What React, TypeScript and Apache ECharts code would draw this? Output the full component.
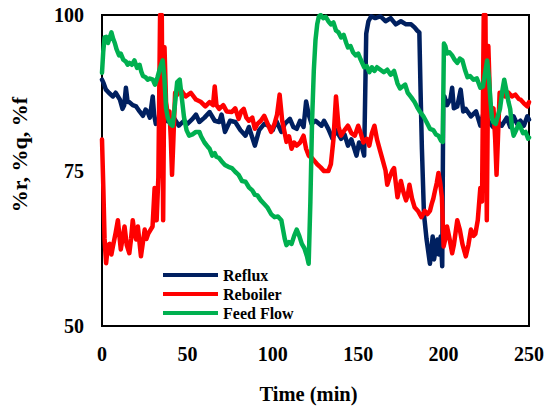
import React, { useEffect, useRef } from "react";
import * as echarts from "echarts";

const FONT = "'Liberation Serif', 'Times New Roman', serif";

const seriesNames = ["Reflux", "Reboiler", "Feed Flow"];
const seriesColors = ["#002060", "#FF0000", "#00B050"];

const xTickValues = [0, 50, 100, 150, 200, 250];
const yTickValues = [50, 75, 100];

// [time (min), %]
const refluxData: [number, number][] = [
  [0, 89.6], [1, 89], [2.3, 88], [4, 87.5], [6.4, 86.9], [8, 87.5], [10.5, 86.4], [12, 84.9], [13, 85.5], [14, 88.3],
  [15, 86], [16, 86], [18, 85.5], [20, 85.3], [22, 84.5], [24, 83.8], [25.5, 84.8], [26.7, 84.4], [28, 83.5], [29.7, 86.9],
  [30.5, 84], [31.5, 82.5], [33, 83], [35.5, 83.8], [37.5, 83], [39.5, 82.8], [42, 83.5], [45, 82.2], [48, 83], [50, 82.5],
  [53, 83.3], [55, 84], [57, 82.8], [60, 83.5], [63, 84.4], [66, 83], [68.6, 82.8], [70, 84], [72, 81.2], [75, 83],
  [78, 82.8], [81, 81.5], [84, 80.6], [86, 82], [89.5, 79], [92, 81.5], [95, 82.5], [97.5, 82.2], [100, 81.5], [102, 83],
  [105, 81.2], [107, 82.5], [110, 83.3], [112, 82], [114, 81.7], [116, 83], [118, 82], [119.5, 86.1], [121, 84], [122.7, 82.5],
  [125, 83], [128.5, 82.2], [130, 83], [132.5, 81.7], [135, 80.1], [137, 81.5], [140, 80.1], [142, 80.8], [144, 79], [146, 80],
  [149, 77.4], [150.5, 79.5], [152, 79], [153.5, 77.4], [154.7, 97], [156, 99], [157.6, 99.8], [160, 99.5], [163, 99.8], [166, 99],
  [169, 99.5], [172, 98.5], [175, 99], [178, 98.5], [181, 98.5], [183, 98], [184.5, 97.5], [185.8, 97.2], [186.5, 88], [187.3, 78.5],
  [188.5, 68], [190, 64], [192, 60], [193.6, 64.4], [194.4, 60.7], [196.3, 63.9], [197.3, 61.5], [198.3, 64.4], [199.2, 59.6], [199.8, 86],
  [200.5, 86.9], [202, 85.5], [204, 86.5], [205, 88.3], [206, 85], [208, 85.3], [210, 88], [211.5, 84.5], [213, 84.9], [216, 83.7],
  [219, 84.5], [221.5, 82.2], [224, 84.9], [226, 83], [229, 82], [232, 82.8], [234, 82.2], [237, 83.5], [239, 82], [241, 83.7],
  [243, 82.5], [245, 83], [247, 82.2], [249, 83.7], [250, 83.2],
];

const reboilerData: [number, number][] = [
  [0, 80], [0.8, 72], [1.5, 64], [2.4, 60.1], [3.5, 63], [4.5, 63.2], [5.5, 61.5], [6.4, 62.8], [8, 65], [9.3, 67],
  [11, 62.3], [12, 64], [13.2, 66], [14.5, 63], [16, 61.7], [17, 64], [18, 67], [19, 65], [20, 63.9], [21, 66],
  [22.8, 61.2], [24, 63.5], [25, 65.5], [26, 64], [27, 64.8], [28.5, 65.5], [29.6, 66], [30.8, 72.2], [32, 67], [33, 74],
  [34, 100], [35, 100], [35.8, 67], [36.6, 94.8], [37.5, 86], [38.5, 84], [39.5, 84.5], [40.3, 80], [41, 74.3], [41.8, 80],
  [42.8, 87.5], [44, 87.2], [46, 88], [49, 86.9], [52, 87.5], [55, 86.4], [58, 86], [60.5, 85.3], [63, 86], [65, 85.5],
  [66, 88.5], [67, 85.5], [68.6, 84.9], [71, 85.5], [73, 84.5], [76, 84.4], [78, 85], [80, 83.3], [81.5, 84.5], [83, 84.9],
  [84.5, 83.5], [86, 83], [88, 83.5], [89.5, 81.7], [91, 82.5], [93, 83], [95, 83.8], [97, 82.5], [99, 81.2], [101, 82.5],
  [102.5, 84], [104, 87.2], [105.5, 83], [107, 81], [108, 79.6], [109.5, 80.5], [111, 78.5], [112.5, 79.5], [114, 79], [116, 79.5],
  [118, 80.6], [119.5, 78.5], [121, 77.4], [123, 77], [124.5, 76.5], [126, 76], [128, 75.5], [130, 74.9], [132.5, 74.9], [134, 76],
  [135.5, 80], [137, 86.9], [138.5, 82], [140, 80.6], [142, 81.5], [144, 82.2], [146, 81], [148, 80.6], [150, 82.2], [151.5, 81],
  [153, 79.5], [155, 80.1], [156.5, 79], [158, 81], [159.5, 82.2], [161, 80], [163, 78], [164.5, 76.5], [166, 75], [167, 72.7],
  [168.5, 74], [170, 75], [171, 75.4], [172, 73], [173, 70.7], [174, 72], [175, 73.3], [176.5, 71.5], [178, 70.2], [179, 71],
  [180, 72.7], [181.5, 70.5], [183, 69.1], [185, 68.5], [187, 67.5], [189, 68.5], [190.5, 68], [192, 68.5], [193, 69.6], [194, 70.5],
  [195, 71.8], [196, 73], [197, 74.6], [198, 73], [199, 70.7], [200, 62.8], [201, 64], [202, 66], [203.5, 64], [205, 61.7],
  [206, 63], [207, 65], [208, 67], [209.5, 65.5], [211, 63.2], [213, 61.2], [214.5, 63], [216, 65.5], [217.5, 64.5], [218.6, 64.8],
  [220, 67], [221.5, 72.2], [222.5, 70], [223.5, 100], [224.5, 100], [225.3, 67], [226.2, 95], [227.2, 86], [228.2, 84], [229.2, 85],
  [230.2, 80], [231, 74.3], [231.8, 80], [232.8, 87.5], [234.5, 87.5], [236, 86.9], [238, 87.5], [240, 86.9], [242, 87.2], [244, 86.5],
  [245, 86.4], [247, 85.8], [249, 85.3], [250, 86],
];

const feedFlowData: [number, number][] = [
  [0, 90.7], [0.7, 94], [1.5, 96.4], [2.5, 96.5], [3.5, 95.5], [4.5, 96.3], [5.5, 97.2], [6.5, 96.2], [7.5, 95.5], [8.5, 94.5],
  [10, 93.5], [11, 93.8], [12.5, 92.8], [14, 92.5], [15, 92], [16, 92.3], [17.5, 92], [19, 92.7], [20.5, 91.5], [22, 92],
  [23, 90.9], [24, 90.2], [25.5, 90], [26.7, 89.6], [28, 89.8], [29.7, 89.6], [31, 88.8], [32.5, 90], [34, 91.5], [35.5, 92.7],
  [36.5, 90], [37.5, 85], [38.5, 83.5], [40, 82.5], [41.3, 82.2], [42.5, 85], [44, 89.2], [45.5, 89.6], [47, 86], [48, 83.6],
  [49.5, 81.5], [51, 80.6], [53, 80.8], [55, 81.2], [57, 81.2], [58, 80.5], [60, 79.5], [62, 78.8], [63, 78.5], [64.5, 77.4],
  [66, 77.8], [67, 77.2], [68.6, 77], [70, 76.5], [72, 75.9], [74, 75.6], [76, 75.4], [78, 74.8], [80, 74.3], [82, 73.3],
  [84, 73.2], [86, 72.3], [88, 71.8], [89.5, 71.1], [91, 71], [93, 70.2], [95, 69.6], [97, 69], [99, 68], [101, 67.5],
  [103, 67.6], [105, 67], [106, 65.5], [107, 64], [108, 63], [109.5, 63.5], [111, 63.2], [112.5, 64.5], [114, 65.5], [115.5, 64.5],
  [117, 63.2], [118.5, 62.5], [120, 61.2], [121, 60], [122, 70], [123, 83], [124, 91], [125, 96], [126, 98.5], [127, 99.8],
  [128, 100], [129.5, 99.5], [131, 99.7], [132.5, 99], [134, 98.5], [135.5, 98.8], [137, 97.5], [138.5, 97.2], [140, 96.4], [141.5, 96.8],
  [143, 95.5], [144, 94.8], [145.5, 95], [147, 94], [148.5, 93.5], [150, 93.8], [151.5, 92.8], [153.5, 91.6], [155, 91.8], [156.5, 90.8],
  [158, 91.6], [159.5, 91], [161, 91.6], [163, 91.2], [165, 90.8], [167, 91.2], [169, 90.4], [171, 91], [172, 90], [173, 89],
  [174.5, 88.2], [176, 88.5], [177.5, 88.8], [179, 87.5], [181, 86.8], [183, 86], [184.5, 85.2], [186, 84.5], [188, 83.8], [190, 82.8],
  [192, 81.7], [194, 81.5], [195.5, 80.8], [197, 80.6], [198.5, 79.8], [199.5, 79.6], [200.2, 95.4], [201, 95], [202, 93.8], [203.5, 94],
  [205, 93.5], [206.5, 92.8], [208, 92.3], [209.5, 93], [211, 92.7], [212.5, 91.2], [214, 90], [215.5, 90.2], [217.5, 89.6], [219.5, 89.8],
  [221.5, 88.3], [223, 88.5], [224.5, 91], [225.5, 92.7], [226.5, 90], [227.5, 86], [228.3, 83.5], [229, 82.8], [230.5, 82.5], [232, 84],
  [233, 84.9], [234.5, 88], [235.5, 89.6], [237, 87.5], [238, 86], [239, 84.9], [240, 82], [241, 80.6], [242.5, 81.5], [244, 82.5],
  [245, 82], [246.5, 81], [248, 81.2], [249.5, 80.1], [250, 80.3],
];

const allData = [refluxData, reboilerData, feedFlowData];

export default function App() {
  const ref = useRef<HTMLDivElement>(null);
  useEffect(() => {
    if (!ref.current) return;
    const chart = echarts.init(ref.current, null, { renderer: "svg" });
    const labelStyle = { fontFamily: FONT, fontWeight: "bold" as const, fontSize: 20, color: "#000" };
    chart.setOption({
      animation: false,
      backgroundColor: "#fff",
      grid: {
        left: 99, top: 15, width: 431, height: 316,
        show: true, borderColor: "#000", borderWidth: 2, backgroundColor: "transparent",
      },
      legend: {
        data: seriesNames,
        orient: "vertical",
        left: 163,
        top: 267,
        padding: 0,
        icon: "rect",
        itemWidth: 55,
        itemHeight: 4,
        itemGap: 3,
        textStyle: { fontFamily: FONT, fontWeight: "bold", fontSize: 16, color: "#000", lineHeight: 16 },
      },
      xAxis: {
        type: "value",
        min: xTickValues[0],
        max: xTickValues[xTickValues.length - 1],
        interval: xTickValues[1] - xTickValues[0],
        name: "Time (min)",
        nameLocation: "middle",
        nameGap: 57,
        nameTextStyle: { ...labelStyle, fontSize: 20.5, padding: [0, 14, 0, 0] },
        axisLine: { lineStyle: { color: "#000", width: 2 } },
        axisTick: { show: false },
        splitLine: { show: false },
        axisLabel: { ...labelStyle, margin: 18 },
      },
      yAxis: {
        type: "value",
        min: yTickValues[0],
        max: yTickValues[yTickValues.length - 1],
        interval: yTickValues[1] - yTickValues[0],
        name: "%r, %q, %f",
        nameLocation: "middle",
        nameGap: 72,
        nameTextStyle: { ...labelStyle, fontSize: 22, padding: [0, 0, 0, 32] },
        axisLine: { lineStyle: { color: "#000", width: 2 } },
        axisTick: { show: false },
        splitLine: { show: false },
        axisLabel: { ...labelStyle, margin: 18 },
      },
      series: seriesNames.map((name, i) => ({
        name,
        type: "line",
        data: allData[i],
        showSymbol: false,
        symbol: "none",
        color: seriesColors[i],
        lineStyle: { color: seriesColors[i], width: 4.5, join: "round", cap: "round" },
      })),
    });
    return () => chart.dispose();
  }, []);
  return (
    <div
      ref={ref}
      style={{ position: "absolute", left: 0, top: 0, width: 547, height: 409 }}
    />
  );
}
